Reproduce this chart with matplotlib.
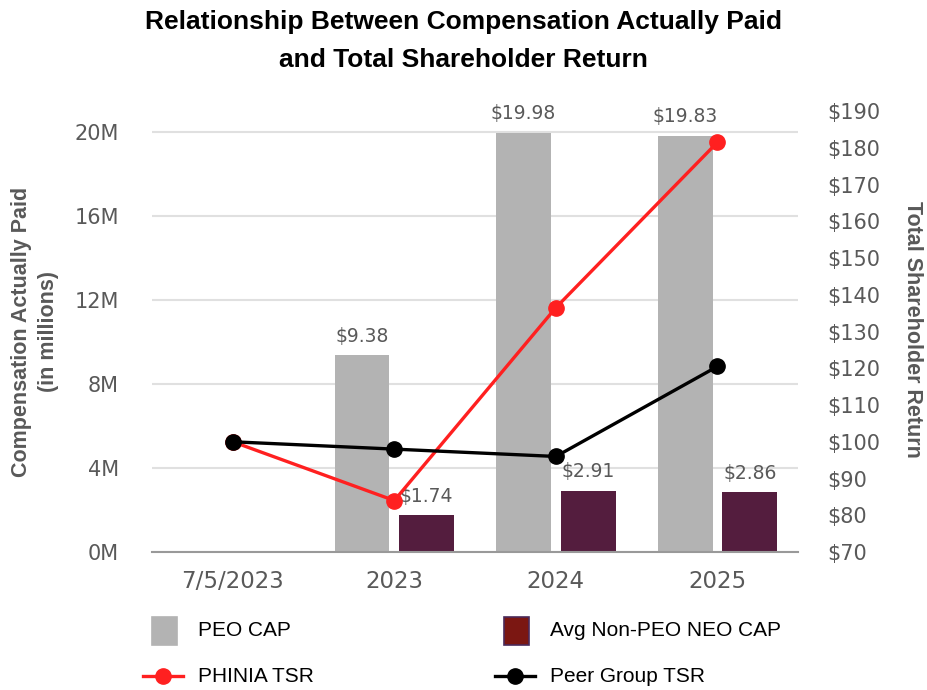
import numpy as np
import matplotlib.pyplot as plt
from matplotlib.lines import Line2D
from matplotlib.patches import Rectangle

plt.rcParams['font.family'] = ['Liberation Sans', 'DejaVu Sans']

periods = ['7/5/2023', '2023', '2024', '2025']
peo_cap = [np.nan, 9.38, 19.98, 19.83]      # $M
neo_cap = [np.nan, 1.74, 2.91, 2.86]        # $M
phinia_tsr = [100, 84, 136.5, 181.5]
peer_tsr = [100, 98, 96, 120.5]

GREY_TXT = '#595959'
PEO_COL = '#b3b3b3'
NEO_COL = '#541d3e'
RED = '#ff2020'
NUM_FONT = 'DejaVu Sans'

fig = plt.figure(figsize=(9.27, 6.90), dpi=100)
ax = fig.add_axes([0.164, 0.2, 0.697, 0.639])
ax2 = ax.twinx()

x = np.arange(len(periods))
w = 0.34
off = 0.2
ax.bar(x - off, peo_cap, w, color=PEO_COL, zorder=2)
ax.bar(x + off, neo_cap, w, color=NEO_COL, zorder=2)

for i in range(len(periods)):
    if not np.isnan(peo_cap[i]):
        ax.text(x[i] - off, peo_cap[i] + 0.45, f'${peo_cap[i]:.2f}', ha='center', va='bottom',
                fontsize=13.5, color=GREY_TXT, family=NUM_FONT)
        ax.text(x[i] + off, neo_cap[i] + 0.45, f'${neo_cap[i]:.2f}', ha='center', va='bottom',
                fontsize=13.5, color=GREY_TXT, family=NUM_FONT)

ax.set_xlim(-0.5, 3.5)
ax.set_ylim(0, 21)
ax.set_yticks([0, 4, 8, 12, 16, 20])
ax.set_yticklabels([f'{v}M' for v in [0, 4, 8, 12, 16, 20]], family=NUM_FONT)
ax.set_xticks(x)
ax.set_xticklabels(periods, family=NUM_FONT)
ax.grid(axis='y', color='#e0e0e0', linewidth=1.5, zorder=0)
ax.set_axisbelow(True)
ax.tick_params(axis='y', length=0, pad=24, labelsize=15, labelcolor=GREY_TXT)
ax.tick_params(axis='x', length=0, pad=13, labelsize=16.5, labelcolor=GREY_TXT)
for s in ['top', 'left', 'right']:
    ax.spines[s].set_visible(False)
ax.spines['bottom'].set_color('#999999')
ax.spines['bottom'].set_linewidth(1.5)

ax2.plot(x, phinia_tsr, color=RED, linewidth=2.4, marker='o', markersize=11, zorder=3)
ax2.plot(x, peer_tsr, color='black', linewidth=2.4, marker='o', markersize=11, zorder=3)
ax2.set_ylim(70, 190)
ax2.set_yticks(range(70, 191, 10))
ax2.set_yticklabels([f'${v}' for v in range(70, 191, 10)], family=NUM_FONT)
ax2.tick_params(axis='y', length=0, pad=21, labelsize=15, labelcolor=GREY_TXT)
for s in ['top', 'left', 'right', 'bottom']:
    ax2.spines[s].set_visible(False)

# axis titles
fig.text(0.0378, 0.519, 'Compensation Actually Paid\n(in millions)', rotation=90,
         ha='center', va='center', fontsize=15.5, fontweight='bold', color=GREY_TXT,
         linespacing=1.4)
fig.text(0.984, 0.523, 'Total Shareholder Return', rotation=270,
         ha='center', va='center', fontsize=15.5, fontweight='bold', color=GREY_TXT)

# chart title
fig.text(0.5, 1 - 22 / 690, 'Relationship Between Compensation Actually Paid',
         ha='center', va='center', fontsize=19, fontweight='bold', color='black')
fig.text(0.5, 1 - 60 / 690, 'and Total Shareholder Return',
         ha='center', va='center', fontsize=19, fontweight='bold', color='black')

# legend, laid out by hand in pixel positions
W, H = 927, 690

def fx(px):
    return px / W

def fy(py):
    return 1 - py / H

def legend_box(x0, yc, face, edge, label):
    fig.patches.append(Rectangle((fx(x0), fy(yc + 14)), 25 / W, 28 / H,
                                 facecolor=face, edgecolor=edge, linewidth=1.2,
                                 transform=fig.transFigure, figure=fig))
    fig.text(fx(x0 + 46), fy(yc), label, ha='left', va='center', fontsize=15, color='black')

def legend_line(x0, yc, col, label):
    fig.add_artist(Line2D([fx(x0), fx(x0 + 40)], [fy(yc), fy(yc)], color=col, linewidth=2.4,
                          transform=fig.transFigure))
    fig.add_artist(Line2D([fx(x0 + 20)], [fy(yc)], color=col, marker='o', markersize=11,
                          transform=fig.transFigure))
    fig.text(fx(x0 + 55), fy(yc), label, ha='left', va='center', fontsize=15, color='black')

legend_box(152, 631, PEO_COL, PEO_COL, 'PEO CAP')
legend_box(504, 631, '#7b1712', '#4a2a5a', 'Avg Non-PEO NEO CAP')
legend_line(143, 676, RED, 'PHINIA TSR')
legend_line(495, 676, 'black', 'Peer Group TSR')

fig.savefig('out.png', dpi=100)
